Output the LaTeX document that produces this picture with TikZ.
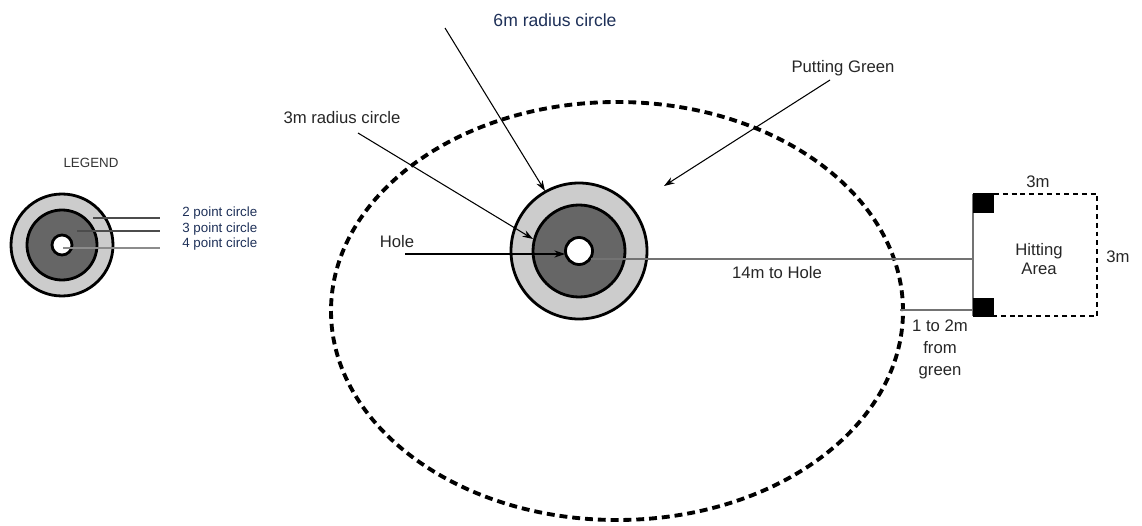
\documentclass[tikz,border=0pt]{standalone}
\usepackage{fontspec}
\setmainfont{Liberation Sans}
\usetikzlibrary{arrows.meta}
\definecolor{ringlight}{gray}{0.80}
\definecolor{ringdark}{gray}{0.40}
\definecolor{labelblue}{RGB}{30,48,88}
\definecolor{labelgray}{gray}{0.15}

\begin{document}
\begin{tikzpicture}[x=0.02cm, y=0.02cm,
    every node/.style={font=\fontsize{9.5}{11.3}\selectfont, text=labelgray, inner sep=1pt},
    pointer/.style={line width=0.6pt, -{Stealth[length=6pt,width=4pt]}},
    ring/.style={line width=1.6pt},
    legendlbl/.style={font=\fontsize{7.6}{9}\selectfont, text=labelblue, anchor=west, inner sep=0pt}]
    \useasboundingbox (0,0) rectangle (1142,525);

    % Putting green
    \draw[line width=2.2pt, dash pattern=on 4.5pt off 2.8pt] (617,214) ellipse (286 and 209);

    % Target
    \coordinate (hole) at (579,274);
    \draw[ring, fill=ringlight] (hole) circle (68);
    \draw[ring, fill=ringdark] (hole) circle (46);
    \draw[ring, fill=white] (hole) circle (13.5);

    % Legend
    \node[font=\fontsize{7.6}{9}\selectfont, text=black!80] (legend) at (91,362) {LEGEND};
    \coordinate (lg) at (62,280);
    \draw[ring, fill=ringlight] (lg) circle (51);
    \draw[ring, fill=ringdark] (lg) circle (35);
    \draw[ring, fill=white] (lg) circle (10);
    \node[legendlbl] (two) at (182,312) {2 point circle};
    \node[legendlbl] (three) at (182,296) {3 point circle};
    \node[legendlbl] (four) at (182,281) {4 point circle};
    \coordinate (twoin) at (93,307);   \coordinate (twoout) at (160,307);
    \coordinate (threein) at (77,294); \coordinate (threeout) at (160,294);
    \coordinate (fourin) at (63,277);  \coordinate (fourout) at (160,277);
    \draw[black!70, line width=0.6pt] (twoin) -- (twoout);
    \draw[black!70, line width=0.6pt] (threein) -- (threeout);
    \draw[black!45, line width=0.6pt] (fourin) -- (fourout);

    % Labels with pointers
    \node[font=\fontsize{10}{12}\selectfont, text=labelblue] (six) at (555,505) {6m radius circle};
    \node (rthree) at (342,407) {3m radius circle};
    \node (holelbl) at (397,283) {Hole};
    \node (green) at (843,457) {Putting Green};
    \coordinate (sixfrom) at (445,497);   \coordinate (sixto) at (545,334);
    \coordinate (threefrom) at (358,392); \coordinate (threeto) at (533,286);
    \coordinate (holefrom) at (405,271);  \coordinate (holeto) at (565,271);
    \coordinate (greenfrom) at (830,445); \coordinate (greento) at (664,339);
    \draw[pointer] (sixfrom) -- (sixto);
    \draw[pointer] (threefrom) -- (threeto);
    \draw[pointer] (holefrom) -- (holeto);
    \draw[pointer] (greenfrom) -- (greento);

    % Distance to hole
    \coordinate (holeedge) at (591,266);
    \coordinate (teeline) at (973,266);
    \draw[black!55, line width=0.7pt] (holeedge) -- (teeline);
    \node (dist) at (777,252) {14m to Hole};

    % Hitting area
    \coordinate (teetop) at (973,331);
    \coordinate (teebot) at (973,209);
    \draw[black!55, line width=0.7pt] (teetop) -- (teebot);
    \draw[line width=0.7pt, dash pattern=on 2.8pt off 2.2pt] (994,331) -- (1097,331) -- (1097,209) -- (994,209);
    \fill (973,312) rectangle (994,332);
    \fill (973,208) rectangle (994,227);
    \node[align=center] (hit) at (1039,266) {Hitting\\Area};
    \node (topw) at (1038,343) {3m};
    \node (sidew) at (1118,268) {3m};

    % Gap to green
    \coordinate (greenedge) at (900,215);
    \coordinate (teegap) at (973,215);
    \draw[black!55, line width=0.7pt] (greenedge) -- (teegap);
    \node[align=center, font=\fontsize{9.5}{12.5}\selectfont] (gap) at (940,176) {1 to 2m\\from\\green};
\end{tikzpicture}
\end{document}
